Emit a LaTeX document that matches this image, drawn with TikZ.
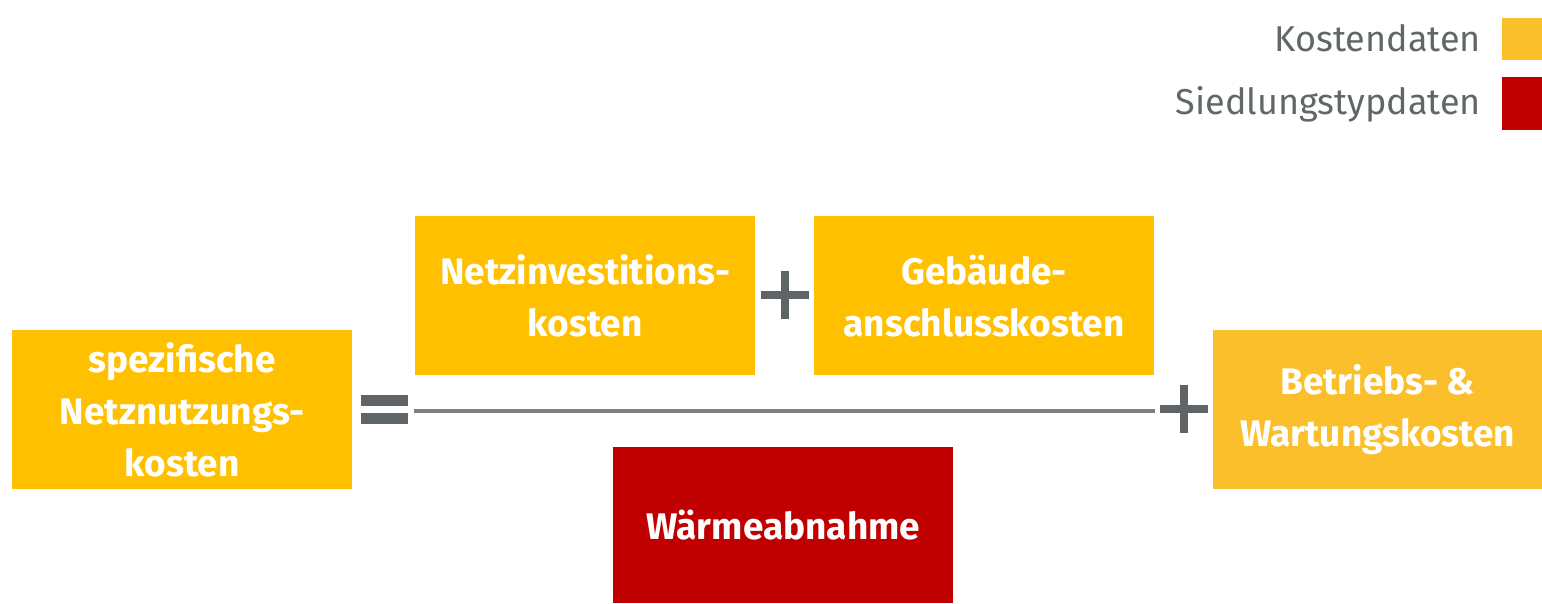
\documentclass[tikz,border=0pt]{standalone}
\usepackage{fontspec}
\setmainfont{Fira Sans}
\definecolor{kyellow}{HTML}{FFC000}
\definecolor{lyellow}{HTML}{FCBF2C}
\definecolor{sred}{HTML}{C00000}
\definecolor{gtext}{HTML}{5F6767}
\definecolor{opgrey}{HTML}{5F6566}
\definecolor{lgrey}{HTML}{808080}
\tikzset{
  box/.style={fill=kyellow, draw=none, minimum width=340pt, minimum height=159pt, inner sep=0pt,
    text=white, font=\fontsize{37}{52}\selectfont\bfseries, align=center, anchor=north west},
  legtext/.style={text=gtext, font=\fontsize{36}{40}\selectfont, anchor=east, inner sep=0pt},
  op/.style={fill=opgrey, draw=none}
}
\begin{document}
\begin{tikzpicture}[x=1pt,y=-1pt]
\useasboundingbox (0,0) rectangle (1542,603);
% legend
\fill[lyellow] (1502,18) rectangle (1542,60);
\fill[sred] (1502,77) rectangle (1542,130);
\node[legtext] (k) at (1481,38) {Kostendaten};
\node[legtext] (s) at (1481,104) {Siedlungstypdaten};
% boxes
\node[box] (spez) at (12,330) {spezifische\\Netznutzungs-\\kosten};
\node[box] (netz) at (415,216) {Netzinvestitions-\\kosten};
\node[box] (geb) at (814,216) {Gebäude-\\anschlusskosten};
\node[box, fill=lyellow, minimum width=329pt] (betr) at (1213,330) {Betriebs- \&\\Wartungskosten};
\node[box, fill=sred, minimum height=156pt] (waerme) at (613,447) {Wärmeabnahme};
% fraction line
\coordinate (la) at (414,411);
\coordinate (lb) at (1155,411);
\draw[lgrey, line width=4pt] (la) -- (lb);
% equals
\fill[op] (361,395) rectangle (408,405.5);
\fill[op] (361,413) rectangle (408,423.5);
% plus top
\fill[op] (761,291) rectangle (809,299);
\fill[op] (781,271) rectangle (789,319);
% plus right
\fill[op] (1160,405) rectangle (1208,413);
\fill[op] (1180,385) rectangle (1188,433);
\end{tikzpicture}
\end{document}
